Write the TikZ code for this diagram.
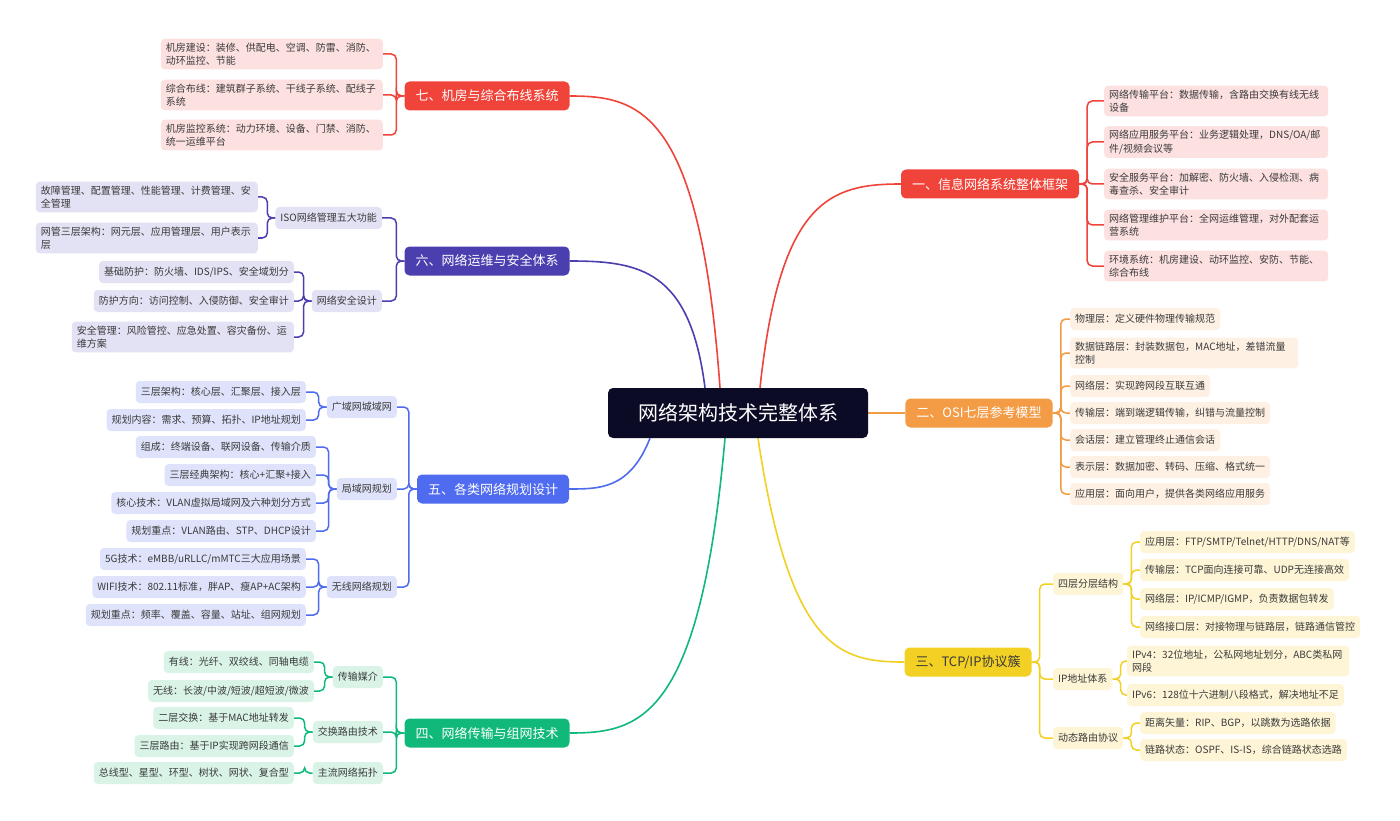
\documentclass[tikz,border=0pt]{standalone}
\usepackage{fontspec}
\setmainfont{Noto Sans CJK SC}
\usetikzlibrary{calc,backgrounds}
\definecolor{rootbg}{HTML}{0B0B26}
\definecolor{textdark}{HTML}{3A3A3A}
\definecolor{redA}{HTML}{F0443A}
\definecolor{redL}{HTML}{FDE1E1}
\definecolor{orangeA}{HTML}{F39B45}
\definecolor{orangeL}{HTML}{FEF1E4}
\definecolor{yellowA}{HTML}{F2D024}
\definecolor{yellowL}{HTML}{FDF5D6}
\definecolor{greenA}{HTML}{10B97A}
\definecolor{greenL}{HTML}{D9F4E7}
\definecolor{blueA}{HTML}{4F6BEF}
\definecolor{blueL}{HTML}{DEE3FB}
\definecolor{purpleA}{HTML}{4B3FB0}
\definecolor{purpleL}{HTML}{E3E1F4}
\tikzset{
  leaf/.style={rectangle, rounded corners=4pt, inner xsep=5pt, inner ysep=4pt, align=left,
    font=\fontsize{10}{13.5}\selectfont, text=textdark, minimum height=22pt},
  topic/.style={rectangle, rounded corners=5pt, text=white, font=\fontsize{13}{15}\selectfont,
    minimum height=29pt, inner xsep=11pt},
  link/.style={line width=1.5pt, rounded corners=5pt},
  trunk/.style={line width=1.6pt},
}
% brackets: parent -> children
\newcommand{\brR}[3]{\foreach \c in {#3} \draw[link,#1] (#2.east) -- ++(8,0) |- (\c.west);}
\newcommand{\brL}[3]{\foreach \c in {#3} \draw[link,#1] (#2.west) -- ++(-8,0) |- (\c.east);}

\begin{document}
\begin{tikzpicture}[x=1pt,y=-1pt]
\useasboundingbox (0,0) rectangle (1400,821);

\node[rectangle, rounded corners=5pt, fill=rootbg, text=white, font=\fontsize{20}{24}\selectfont,
  minimum width=260pt, minimum height=50pt] (root) at (738,413) {网络架构技术完整体系};

% 一
\node[topic, fill=redA] (T1) at (990,184) {一、信息网络系统整体框架};
\begin{scope}[every node/.style={leaf, fill=redL, anchor=west, text width=214pt}]
\node (A1) at (1104,101) {网络传输平台：数据传输，含路由交换有线无线\\设备};
\node (A2) at (1104,142) {网络应用服务平台：业务逻辑处理，DNS/OA/邮\\件/视频会议等};
\node (A3) at (1104,184) {安全服务平台：加解密、防火墙、入侵检测、病\\毒查杀、安全审计};
\node (A4) at (1104,225) {网络管理维护平台：全网运维管理，对外配套运\\营系统};
\node (A5) at (1104,266) {环境系统：机房建设、动环监控、安防、节能、\\综合布线};
\end{scope}

% 二
\node[topic, fill=orangeA] (T2) at (979,413) {二、OSI七层参考模型};
\begin{scope}[every node/.style={leaf, fill=orangeL, anchor=west}]
\node (B1) at (1070,319) {物理层：定义硬件物理传输规范};
\node[text width=218pt] (B2) at (1070,353) {数据链路层：封装数据包，MAC地址，差错流量\\控制};
\node (B3) at (1070,386) {网络层：实现跨网段互联互通};
\node (B4) at (1070,413) {传输层：端到端逻辑传输，纠错与流量控制};
\node (B5) at (1070,440) {会话层：建立管理终止通信会话};
\node (B6) at (1070,467) {表示层：数据加密、转码、压缩、格式统一};
\node (B7) at (1070,494) {应用层：面向用户，提供各类网络应用服务};
\end{scope}

% 三
\node[topic, fill=yellowA, text=textdark] (T3) at (968,662) {三、TCP/IP协议簇};
\begin{scope}[every node/.style={leaf, fill=yellowL, anchor=west}]
\node (C1) at (1053,584) {四层分层结构};
\node (C2) at (1053,679) {IP地址体系};
\node (C3) at (1053,738) {动态路由协议};
\node (C11) at (1140,542) {应用层：FTP/SMTP/Telnet/HTTP/DNS/NAT等};
\node (C12) at (1140,570) {传输层：TCP面向连接可靠、UDP无连接高效};
\node (C13) at (1140,599) {网络层：IP/ICMP/IGMP，负责数据包转发};
\node (C14) at (1140,627) {网络接口层：对接物理与链路层，链路通信管控};
\node[text width=212pt] (C21) at (1127,661) {IPv4：32位地址，公私网地址划分，ABC类私网\\网段};
\node (C22) at (1127,695) {IPv6：128位十六进制八段格式，解决地址不足};
\node (C31) at (1140,723) {距离矢量：RIP、BGP，以跳数为选路依据};
\node (C32) at (1140,750) {链路状态：OSPF、IS-IS，综合链路状态选路};
\end{scope}

% 四
\node[topic, fill=greenA] (T4) at (487,733) {四、网络传输与组网技术};
\begin{scope}[every node/.style={leaf, fill=greenL, anchor=east}]
\node (D1) at (383,677) {传输媒介};
\node (D2) at (383,732) {交换路由技术};
\node (D3) at (383,773) {主流网络拓扑};
\node (D11) at (314,662) {有线：光纤、双绞线、同轴电缆};
\node (D12) at (314,691) {无线：长波/中波/短波/超短波/微波};
\node (D21) at (294,718) {二层交换：基于MAC地址转发};
\node (D22) at (294,746) {三层路由：基于IP实现跨网段通信};
\node (D31) at (294,773) {总线型、星型、环型、树状、网状、复合型};
\end{scope}

% 五
\node[topic, fill=blueA] (T5) at (493,489) {五、各类网络规划设计};
\begin{scope}[every node/.style={leaf, fill=blueL, anchor=east}]
\node (E1) at (397,407) {广域网城域网};
\node (E2) at (397,489) {局域网规划};
\node (E3) at (397,587) {无线网络规划};
\node (E11) at (306,392) {三层架构：核心层、汇聚层、接入层};
\node (E12) at (306,420) {规划内容：需求、预算、拓扑、IP地址规划};
\node (E21) at (316,447) {组成：终端设备、联网设备、传输介质};
\node (E22) at (316,475) {三层经典架构：核心+汇聚+接入};
\node (E23) at (316,503) {核心技术：VLAN虚拟局域网及六种划分方式};
\node (E24) at (316,531) {规划重点：VLAN路由、STP、DHCP设计};
\node (E31) at (306,559) {5G技术：eMBB/uRLLC/mMTC三大应用场景};
\node (E32) at (306,587) {WIFI技术：802.11标准，胖AP、瘦AP+AC架构};
\node (E33) at (306,615) {规划重点：频率、覆盖、容量、站址、组网规划};
\end{scope}

% 六
\node[topic, fill=purpleA] (T6) at (487,261) {六、网络运维与安全体系};
\begin{scope}[every node/.style={leaf, fill=purpleL, anchor=east}]
\node (F1) at (382,218) {ISO网络管理五大功能};
\node (F2) at (382,301) {网络安全设计};
\node[text width=212pt] (F11) at (258,197) {故障管理、配置管理、性能管理、计费管理、安\\全管理};
\node[text width=212pt] (F12) at (258,238) {网管三层架构：网元层、应用管理层、用户表示\\层};
\node (F21) at (294,272) {基础防护：防火墙、IDS/IPS、安全域划分};
\node (F22) at (294,301) {防护方向：访问控制、入侵防御、安全审计};
\node[text width=212pt] (F23) at (294,337) {安全管理：风险管控、应急处置、容灾备份、运\\维方案};
\end{scope}

% 七
\node[topic, fill=redA] (T7) at (487,96) {七、机房与综合布线系统};
\begin{scope}[every node/.style={leaf, fill=redL, anchor=east, text width=212pt}]
\node (G1) at (383,54) {机房建设：装修、供配电、空调、防雷、消防、\\动环监控、节能};
\node (G2) at (383,95) {综合布线：建筑群子系统、干线子系统、配线子\\系统};
\node (G3) at (383,135) {机房监控系统：动力环境、设备、门禁、消防、\\统一运维平台};
\end{scope}

\begin{scope}[on background layer]
\fill[white] (0,0) rectangle (1400,821);
\draw[trunk, redA] ($(root.north)+(22,0)$) .. controls (780,200) and (830,184) .. (T1.west);
\draw[trunk, orangeA] (root.east) -- (T2.west);
\draw[trunk, yellowA] ($(root.south)+(20,0)$) .. controls (790,650) and (840,662) .. (T3.west);
\draw[trunk, greenA] ($(root.south)+(-13,0)$) .. controls (700,720) and (640,733) .. (T4.east);
\draw[trunk, blueA] ($(root.south)+(-88,0)$) .. controls (630,489) and (600,489) .. (T5.east);
\draw[trunk, purpleA] ($(root.north)+(-33,0)$) .. controls (690,270) and (640,261) .. (T6.east);
\draw[trunk, redA] ($(root.north)+(-18,0)$) .. controls (700,110) and (640,96) .. (T7.east);

\brR{redA}{T1}{A1,A2,A3,A4,A5}
\brR{orangeA}{T2}{B1,B2,B3,B4,B5,B6,B7}
\brR{yellowA}{T3}{C1,C2,C3}
\brR{yellowA}{C1}{C11,C12,C13,C14}
\brR{yellowA}{C2}{C21,C22}
\brR{yellowA}{C3}{C31,C32}
\brL{greenA}{T4}{D1,D2,D3}
\brL{greenA}{D1}{D11,D12}
\brL{greenA}{D2}{D21,D22}
\brL{greenA}{D3}{D31}
\brL{blueA}{T5}{E1,E2,E3}
\brL{blueA}{E1}{E11,E12}
\brL{blueA}{E2}{E21,E22,E23,E24}
\brL{blueA}{E3}{E31,E32,E33}
\brL{purpleA}{T6}{F1,F2}
\brL{purpleA}{F1}{F11,F12}
\brL{purpleA}{F2}{F21,F22,F23}
\brL{redA}{T7}{G1,G2,G3}
\end{scope}
\end{tikzpicture}
\end{document}
